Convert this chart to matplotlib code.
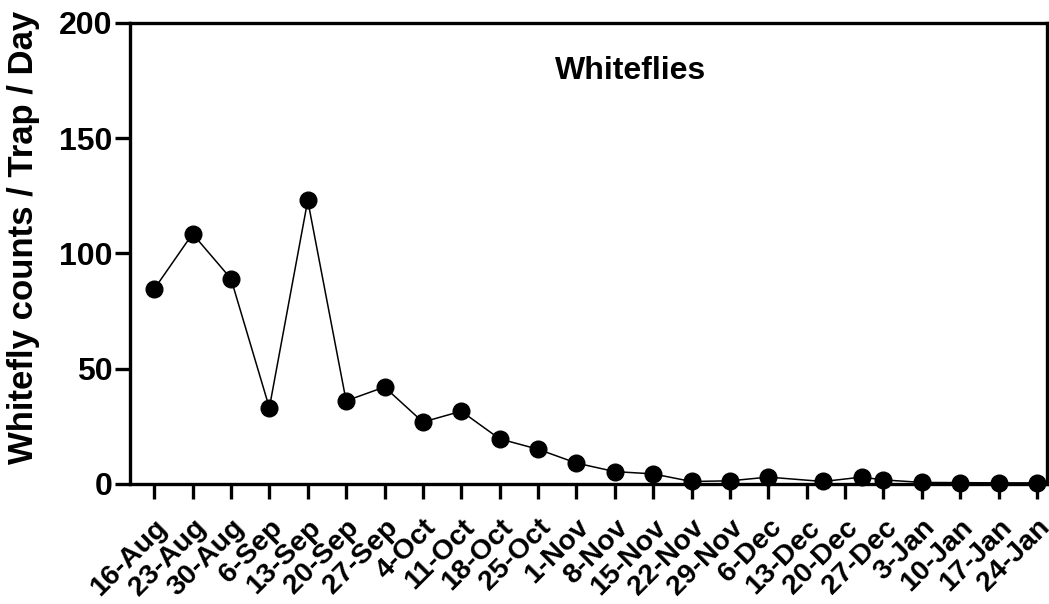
import matplotlib
matplotlib.use("Agg")
import matplotlib.pyplot as plt
import matplotlib.transforms as mtransforms

plt.rcParams["font.family"] = ["Liberation Sans", "DejaVu Sans"]
plt.rcParams["font.weight"] = "bold"

# weekly tick labels (days after 16-Aug)
TICK_LABELS = ["16-Aug", "23-Aug", "30-Aug", "6-Sep", "13-Sep", "20-Sep", "27-Sep",
               "4-Oct", "11-Oct", "18-Oct", "25-Oct", "1-Nov", "8-Nov", "15-Nov",
               "22-Nov", "29-Nov", "6-Dec", "13-Dec", "20-Dec", "27-Dec", "3-Jan",
               "10-Jan", "17-Jan", "24-Jan"]
TICK_DAYS = [7 * i for i in range(len(TICK_LABELS))]

# sampling dates (days after 16-Aug) and counts
SAMPLE_DAYS = [0, 7, 14, 21, 28, 35, 42, 49, 56, 63, 70, 77, 84, 91, 98, 105, 112,
               122, 129, 133, 140, 147, 154, 161]
COUNTS = [84.5, 108.5, 89.0, 33.0, 123.0, 36.0, 42.0, 26.8, 31.5, 19.5, 15.0, 9.0,
          5.3, 4.3, 1.0, 1.3, 2.9, 1.0, 2.9, 1.7, 0.6, 0.5, 0.4, 0.4]

fig = plt.figure(figsize=(10.49, 6.04), dpi=100)
ax = fig.add_axes([0.124, 0.199, 0.874, 0.763])

ax.plot(SAMPLE_DAYS, COUNTS, color="black", linewidth=1.1, marker="o",
        markersize=12, markerfacecolor="black", markeredgecolor="black",
        clip_on=False, zorder=3)

ax.set_xlim(-4.4, 162.8)
ax.set_ylim(0, 200)
ax.set_yticks([0, 50, 100, 150, 200])
ax.set_xticks(TICK_DAYS)
ax.set_xticklabels(TICK_LABELS, rotation=45, ha="right", rotation_mode="anchor",
                   fontsize=20.5, fontweight="bold")
# nudge the rotated labels so their ends sit just right of each tick
shift = mtransforms.ScaledTranslation(-2 / 100, 0, fig.dpi_scale_trans)
for lab in ax.get_xticklabels():
    lab.set_transform(lab.get_transform() + shift)
for lab in ax.get_yticklabels():
    lab.set_fontsize(23)
    lab.set_fontweight("bold")

for side in ["left", "bottom", "top", "right"]:
    ax.spines[side].set_linewidth(2.4)
    ax.spines[side].set_color("black")
ax.tick_params(axis="both", direction="out", length=10.5, width=2.4, color="black")
ax.tick_params(axis="x", pad=11.5)
ax.tick_params(axis="y", pad=2)

ax.set_ylabel("Whitefly counts / Trap / Day", fontsize=25, fontweight="bold")
ax.yaxis.set_label_coords(-0.098, 0.534)

ax.text(0.546, 0.895, "Whiteflies", transform=ax.transAxes, ha="center",
        va="center", fontsize=23, fontweight="bold")

fig.savefig("out.png", dpi=100, facecolor="white")
